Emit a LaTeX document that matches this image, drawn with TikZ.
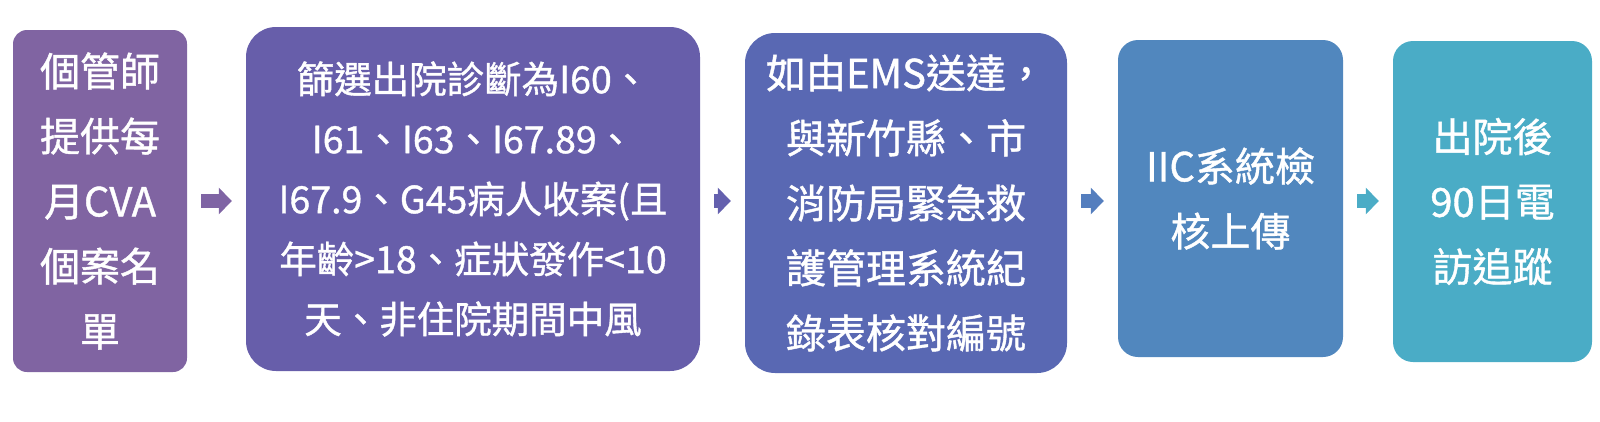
\documentclass[tikz,border=0pt]{standalone}
\usepackage{fontspec}
\setmainfont{Noto Sans CJK TC}[FakeBold=1]
\usetikzlibrary{arrows.meta,calc}
\definecolor{c1}{HTML}{8064A2}
\definecolor{c2}{HTML}{675EAA}
\definecolor{c3}{HTML}{5968B3}
\definecolor{c4}{HTML}{5187BE}
\definecolor{c5}{HTML}{4AACC6}
\definecolor{a1}{HTML}{7F64A4}
\definecolor{a2}{HTML}{6460AE}
\definecolor{a3}{HTML}{547EBE}
\definecolor{a4}{HTML}{4BACC6}
\begin{document}
\begin{tikzpicture}[x=1pt,y=-1pt,
  box/.style={draw=none, text=white, align=center, inner sep=0pt, font=\fontsize{40}{65}\selectfont},
  conn/.style={line width=14pt, -{Triangle[length=13pt,width=26pt]}, shorten <=14pt, shorten >=14pt}]
\useasboundingbox (0,0) rectangle (1600,421);
\coordinate (mid) at (0,201);
\node[box, fill=c1, rounded corners=14pt, minimum width=174pt, minimum height=342pt] (b1) at (100,201)
  {個管師\\提供每\\月CVA\\個案名\\單};
\node[box, fill=c2, rounded corners=30pt, minimum width=454pt, minimum height=344pt,
  font=\fontsize{37.5}{60}\selectfont] (b2) at (473,199)
  {篩選出院診斷為I60、\\I61、I63、I67.89、\\I67.9、G45病人收案(且\\年齡>18、症狀發作<10\\天、非住院期間中風};
\node[box, fill=c3, rounded corners=30pt, minimum width=322pt, minimum height=340pt] (b3) at (906,203)
  {\makebox[0pt]{如由EMS送達，}\\與新竹縣、市\\消防局緊急救\\護管理系統紀\\錄表核對編號};
\node[box, fill=c4, rounded corners=20pt, minimum width=225pt, minimum height=317pt] (b4) at (1230.5,198.5)
  {IIC系統檢\\核上傳};
\node[box, fill=c5, rounded corners=20pt, minimum width=199pt, minimum height=321pt] (b5) at (1492.5,201.5)
  {出院後\\90日電\\訪追蹤};
\draw[conn, a1] (b1.east |- mid) -- (b2.west |- mid);
\draw[conn, a2] (b2.east |- mid) -- (b3.west |- mid);
\draw[conn, a3] (b3.east |- mid) -- (b4.west |- mid);
\draw[conn, a4] (b4.east |- mid) -- (b5.west |- mid);
\end{tikzpicture}
\end{document}
